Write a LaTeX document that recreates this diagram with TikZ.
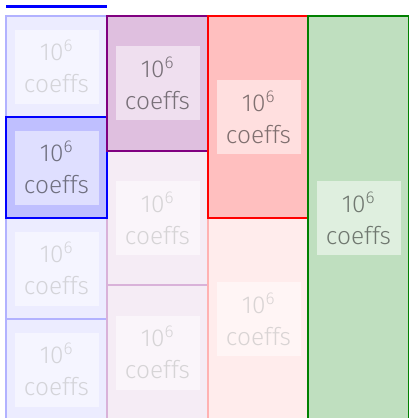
\documentclass[tikz,border=0pt]{standalone}
\usepackage{fontspec}
\setmainfont{Fira Sans}[UprightFont=* Light]
\definecolor{cB}{rgb}{0,0,1}
\definecolor{cP}{rgb}{0.5,0,0.5}
\definecolor{cR}{rgb}{1,0,0}
\definecolor{cG}{rgb}{0,0.5,0}
\newcommand\mkcolset[1]{%
  \colorlet{#1fill}{#1!25}%
  \colorlet{#1lfill}{#1!12.5}%
  \colorlet{#1text}{black!50!#1lfill}%
  \colorlet{#1ifill}{#1!7.5}%
  \colorlet{#1idraw}{#1!30}%
  \colorlet{#1ilfill}{#1!3.75}%
  \colorlet{#1itext}{#1text!30}}
\mkcolset{cB}\mkcolset{cP}\mkcolset{cR}\mkcolset{cG}
\begin{document}
\begin{tikzpicture}[x=1pt,y=-1pt,
  box/.style={draw=#1, fill=#1fill, line width=2pt, anchor=north west,
    inner sep=0pt, outer sep=0pt, minimum width=101pt},
  ibox/.style={draw=#1idraw, fill=#1ifill, line width=2pt, anchor=north west,
    inner sep=0pt, outer sep=0pt, minimum width=101pt},
  lbl/.style={fill=#1lfill, text=#1text, align=center, inner sep=0pt,
    minimum width=84pt, minimum height=74pt,
    font=\fontsize{24.5}{32}\selectfont},
  ilbl/.style={fill=#1ilfill, text=#1itext, align=center, inner sep=0pt,
    minimum width=84pt, minimum height=74pt,
    font=\fontsize{24.5}{32}\selectfont}]
\useasboundingbox (0,0) rectangle (409,418);
\clip (0,0) rectangle (409,418);
% progress bar
\coordinate (barL) at (6,6);
\coordinate (barR) at (107,6);
\draw[cB, line width=3pt] (barL) -- (barR);
% inactive boxes
\node[ibox=cB, minimum height=101pt] (b1) at (6,16) {};
\node[ibox=cB, minimum height=101pt] (b3) at (6,218) {};
\node[ibox=cB, minimum height=101pt] (b4) at (6,319) {};
\node[ibox=cP, minimum height=134.67pt] (p2) at (107,150.67) {};
\node[ibox=cP, minimum height=134.67pt] (p3) at (107,285.33) {};
\node[ibox=cR, minimum height=202pt] (r2) at (208,218) {};
% active boxes
\node[box=cB, minimum height=101pt] (b2) at (6,117) {};
\node[box=cP, minimum height=134.67pt] (p1) at (107,16) {};
\node[box=cR, minimum height=202pt] (r1) at (208,16) {};
\node[box=cG, minimum height=404pt] (g1) at (308,16) {};
% labels
\node[ilbl=cB] (lb1) at (b1.center) {10\textsuperscript{6}\\coeffs};
\node[lbl=cB]  (lb2) at (b2.center) {10\textsuperscript{6}\\coeffs};
\node[ilbl=cB] (lb3) at (b3.center) {10\textsuperscript{6}\\coeffs};
\node[ilbl=cB] (lb4) at (b4.center) {10\textsuperscript{6}\\coeffs};
\node[lbl=cP]  (lp1) at (p1.center) {10\textsuperscript{6}\\coeffs};
\node[ilbl=cP] (lp2) at (p2.center) {10\textsuperscript{6}\\coeffs};
\node[ilbl=cP] (lp3) at (p3.center) {10\textsuperscript{6}\\coeffs};
\node[lbl=cR]  (lr1) at (r1.center) {10\textsuperscript{6}\\coeffs};
\node[ilbl=cR] (lr2) at (r2.center) {10\textsuperscript{6}\\coeffs};
\node[lbl=cG]  (lg1) at (g1.center) {10\textsuperscript{6}\\coeffs};
\end{tikzpicture}
\end{document}
